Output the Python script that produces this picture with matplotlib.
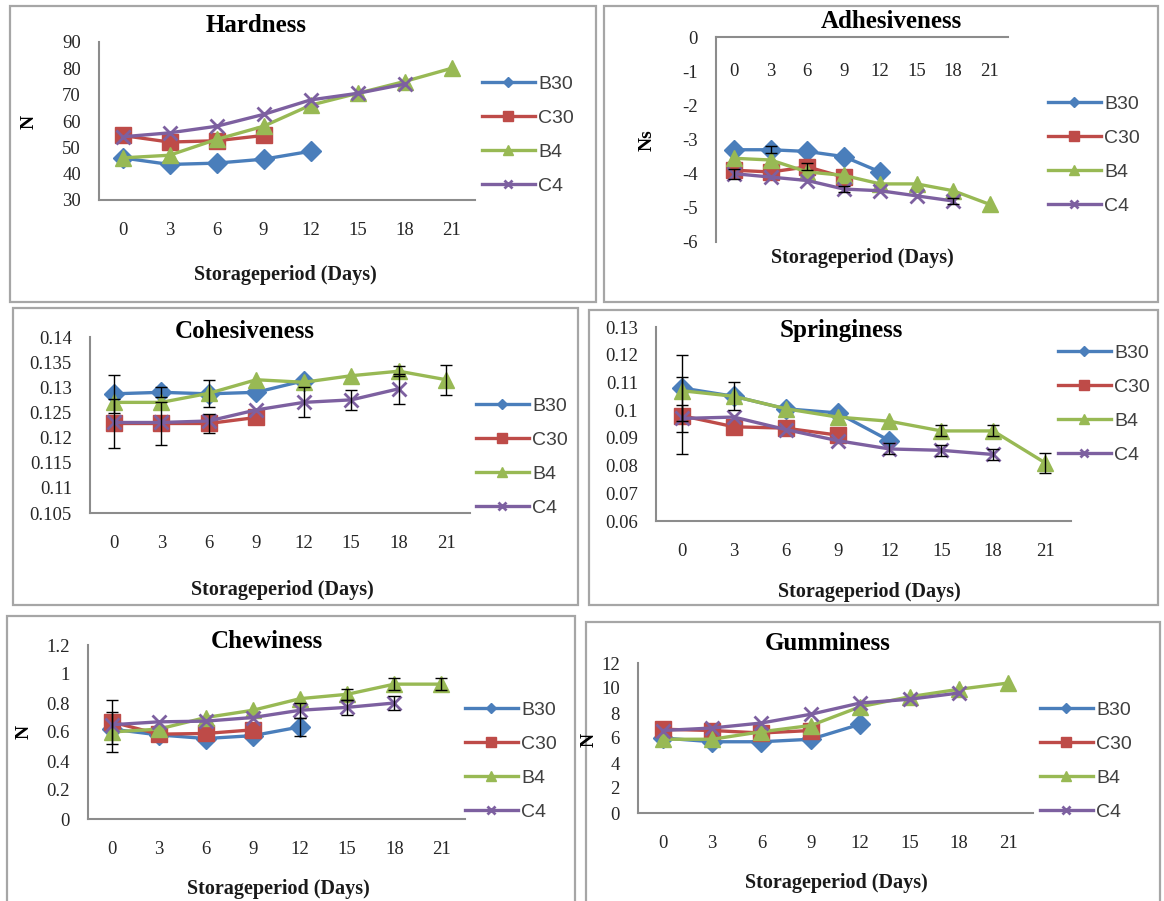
import numpy as np
import matplotlib
matplotlib.use('Agg')
import matplotlib.pyplot as plt
from matplotlib.patches import Rectangle

W, H = 1164, 901

days = ['0', '3', '6', '9', '12', '15', '18', '21']
names = ['B30', 'C30', 'B4', 'C4']
colors = ['#4A7EBB', '#BE4B48', '#98B954', '#7D60A0']
markers = ['D', 's', '^', 'x']
msizes = [10, 12, 12, 10]

# Hardness (N)
hard_b30 = [46, 43.5, 44, 45.5, 48.5]
hard_c30 = [54.5, 52, 52.5, 54.5]
hard_b4 = [46, 47, 53, 58, 66, 70.5, 75, 80]
hard_c4 = [54, 55.5, 58, 62.5, 68, 70.5, 74]
hard_yticks = [30, 40, 50, 60, 70, 80, 90]

# Adhesiveness (Ns)
adh_b30 = [-3.3, -3.3, -3.35, -3.5, -3.95]
adh_c30 = [-3.9, -3.95, -3.8, -4.1]
adh_b4 = [-3.55, -3.6, -3.95, -4.05, -4.3, -4.3, -4.5, -4.9]
adh_c4 = [-4.0, -4.1, -4.2, -4.45, -4.5, -4.65, -4.8]
adh_err_b30 = [0, 0.1, 0, 0, 0]
adh_err_c30 = [0, 0, 0.1, 0]
adh_err_b4 = [0, 0, 0, 0, 0, 0, 0, 0]
adh_err_c4 = [0.15, 0, 0, 0.1, 0, 0, 0.1]
adh_yticks = [0, -1, -2, -3, -4, -5, -6]

# Cohesiveness
coh_b30 = [0.1287, 0.129, 0.1287, 0.129, 0.1313]
coh_c30 = [0.1228, 0.1228, 0.1228, 0.124]
coh_b4 = [0.127, 0.127, 0.1288, 0.1315, 0.131, 0.1323, 0.1332, 0.1315]
coh_c4 = [0.123, 0.123, 0.1233, 0.1255, 0.127, 0.1275, 0.1297]
coh_err_b30 = [0.0038, 0.001, 0, 0, 0]
coh_err_c30 = [0.0048, 0.0043, 0.0018, 0]
coh_err_b4 = [0, 0, 0.0027, 0, 0, 0, 0.001, 0.003]
coh_err_c4 = [0, 0, 0, 0, 0.003, 0.002, 0.003]
coh_yticks = [0.105, 0.11, 0.115, 0.12, 0.125, 0.13, 0.135, 0.14]

# Springiness
spr_b30 = [0.108, 0.105, 0.1005, 0.099, 0.089]
spr_c30 = [0.098, 0.094, 0.0935, 0.091]
spr_b4 = [0.107, 0.105, 0.1005, 0.0975, 0.096, 0.0925, 0.0925, 0.081]
spr_c4 = [0.097, 0.0975, 0.093, 0.089, 0.086, 0.0855, 0.084]
spr_err_b30 = [0.012, 0, 0, 0, 0]
spr_err_c30 = [0.014, 0, 0, 0]
spr_err_b4 = [0, 0.005, 0, 0, 0, 0.002, 0.002, 0.0035]
spr_err_c4 = [0.005, 0, 0, 0, 0.002, 0.002, 0.002]
spr_yticks = [0.06, 0.07, 0.08, 0.09, 0.1, 0.11, 0.12, 0.13]

# Chewiness (N)
chw_b30 = [0.62, 0.58, 0.555, 0.575, 0.635]
chw_c30 = [0.67, 0.585, 0.59, 0.615]
chw_b4 = [0.6, 0.62, 0.7, 0.75, 0.83, 0.86, 0.93, 0.93]
chw_c4 = [0.65, 0.67, 0.675, 0.7, 0.75, 0.77, 0.8]
chw_err_b30 = [0, 0, 0, 0, 0.06]
chw_err_c30 = [0.15, 0, 0, 0]
chw_err_b4 = [0.14, 0, 0, 0, 0, 0.04, 0.04, 0.04]
chw_err_c4 = [0, 0, 0, 0, 0.05, 0.05, 0.05]
chw_yticks = [0, 0.2, 0.4, 0.6, 0.8, 1, 1.2]

# Gumminess (N)
gum_b30 = [6.0, 5.7, 5.7, 5.9, 7.1]
gum_c30 = [6.7, 6.6, 6.4, 6.6]
gum_b4 = [5.9, 5.9, 6.5, 7.0, 8.5, 9.3, 9.9, 10.4]
gum_c4 = [6.6, 6.8, 7.2, 7.9, 8.8, 9.1, 9.6]
gum_yticks = [0, 2, 4, 6, 8, 10, 12]

SERIF = 'Liberation Serif'
SANS = 'Liberation Sans'


def fx(x):
    return x / W


def fy(y):
    return 1 - y / H


def panel(fig, box, axpx, series, errs, yticks, title, title_xy, xlabel_xy,
          leg_xy, ylabel=None, ylabel_xy=None, top_axis=False):
    # grey frame around each chart
    bl, bt, br, bb = box
    fig.patches.append(Rectangle((fx(bl), fy(bb)), fx(br - bl), (bb - bt) / H,
                                 transform=fig.transFigure, fill=False,
                                 edgecolor='#A6A6A6', lw=1.6))
    l, t, r, b = axpx
    ax = fig.add_axes([fx(l), fy(b), fx(r - l), (b - t) / H])
    ax.patch.set_alpha(0)

    lines = []
    for vals, err, name, c, m, ms in zip(series, errs, names, colors, markers, msizes):
        x = np.arange(len(vals))
        v = np.array(vals, dtype=float)
        ln, = ax.plot(x, v, color=c, marker=m, ms=ms, mfc=c, mec=c,
                      mew=2.0 if m == 'x' else 1, lw=2.4, label=name, zorder=3)
        lines.append(ln)
        if err is not None:
            e = np.array(err, dtype=float)
            k = e > 0
            if k.any():
                ax.errorbar(x[k], v[k], yerr=e[k], fmt='none', ecolor='black',
                            elinewidth=1.0, capsize=4, capthick=1.0, zorder=4)

    ax.set_xlim(-0.5, 7.5)
    ax.set_ylim(min(yticks), max(yticks))
    ax.set_xticks(range(len(days)))
    ax.set_xticklabels(days)
    ax.set_yticks(yticks)
    ax.set_yticklabels(['%g' % v for v in yticks])
    for s in ['top', 'right', 'bottom', 'left']:
        ax.spines[s].set_visible(False)
    ax.spines['left'].set_visible(True)
    ax.spines['left'].set_color('#8C8C8C')
    ax.spines['left'].set_linewidth(1.5)
    if top_axis:
        ax.spines['top'].set_visible(True)
        ax.spines['top'].set_color('#8C8C8C')
        ax.spines['top'].set_linewidth(1.5)
        ax.tick_params(axis='x', top=True, bottom=False, labeltop=True,
                       labelbottom=False, pad=-31)
    else:
        ax.spines['bottom'].set_visible(True)
        ax.spines['bottom'].set_color('#8C8C8C')
        ax.spines['bottom'].set_linewidth(1.5)
        ax.tick_params(axis='x', pad=16)
    ax.tick_params(axis='y', pad=13)
    ax.tick_params(length=0, labelsize=13.5, labelcolor='#262626')
    for lab in ax.get_xticklabels() + ax.get_yticklabels():
        lab.set_fontfamily(SERIF)

    fig.text(fx(title_xy[0]), fy(title_xy[1]), title, family=SERIF,
             weight='bold', fontsize=18, ha='center', va='center')
    fig.text(fx(xlabel_xy[0]), fy(xlabel_xy[1]), 'Storageperiod (Days)',
             family=SERIF, weight='bold', fontsize=14.5, ha='center',
             va='center', color='#1a1a1a')
    if ylabel:
        fig.text(fx(ylabel_xy[0]), fy(ylabel_xy[1]), ylabel, family=SERIF,
                 weight='bold', fontsize=14, rotation=90, ha='center',
                 va='center')

    leg = ax.legend(handles=lines, loc='center left',
                    bbox_to_anchor=(fx(leg_xy[0]), fy(leg_xy[1])),
                    bbox_transform=fig.transFigure, frameon=False,
                    handlelength=2.7, handletextpad=0.2, labelspacing=0.85,
                    borderpad=0, borderaxespad=0, markerscale=0.55,
                    prop={'family': SANS, 'size': 14})
    for txt in leg.get_texts():
        txt.set_color('#404040')
    return ax


fig = plt.figure(figsize=(W / 100, H / 100), dpi=100)
fig.patch.set_facecolor('white')

panel(fig, (10, 6, 596, 302), (99, 42, 475, 200),
      [hard_b30, hard_c30, hard_b4, hard_c4], [None] * 4, hard_yticks,
      'Hardness', (256, 26), (285, 275), (482, 135),
      ylabel='N', ylabel_xy=(29, 122))

panel(fig, (604, 6, 1158, 302), (716, 37, 1008, 242),
      [adh_b30, adh_c30, adh_b4, adh_c4],
      [adh_err_b30, adh_err_c30, adh_err_b4, adh_err_c4], adh_yticks,
      'Adhesiveness', (891, 21), (862, 258), (1048, 155),
      ylabel='Ns', ylabel_xy=(647, 140), top_axis=True)

panel(fig, (13, 308, 578, 605), (90, 337, 470, 513),
      [coh_b30, coh_c30, coh_b4, coh_c4],
      [coh_err_b30, coh_err_c30, coh_err_b4, coh_err_c4], coh_yticks,
      'Cohesiveness', (245, 331), (282, 590), (476, 457))

panel(fig, (589, 310, 1158, 605), (656, 327, 1071, 521),
      [spr_b30, spr_c30, spr_b4, spr_c4],
      [spr_err_b30, spr_err_c30, spr_err_b4, spr_err_c4], spr_yticks,
      'Springiness', (841, 330), (869, 592), (1058, 404))

panel(fig, (7, 616, 575, 905), (88, 645, 465, 819),
      [chw_b30, chw_c30, chw_b4, chw_c4],
      [chw_err_b30, chw_err_c30, chw_err_b4, chw_err_c4], chw_yticks,
      'Chewiness', (267, 642), (278, 889), (465, 761),
      ylabel='N', ylabel_xy=(24, 732))

panel(fig, (586, 622, 1160, 905), (638, 663, 1033, 813),
      [gum_b30, gum_c30, gum_b4, gum_c4], [None] * 4, gum_yticks,
      'Gumminess', (828, 643), (836, 883), (1040, 761),
      ylabel='N', ylabel_xy=(589, 740))

fig.savefig('out.png', dpi=100, facecolor='white')
